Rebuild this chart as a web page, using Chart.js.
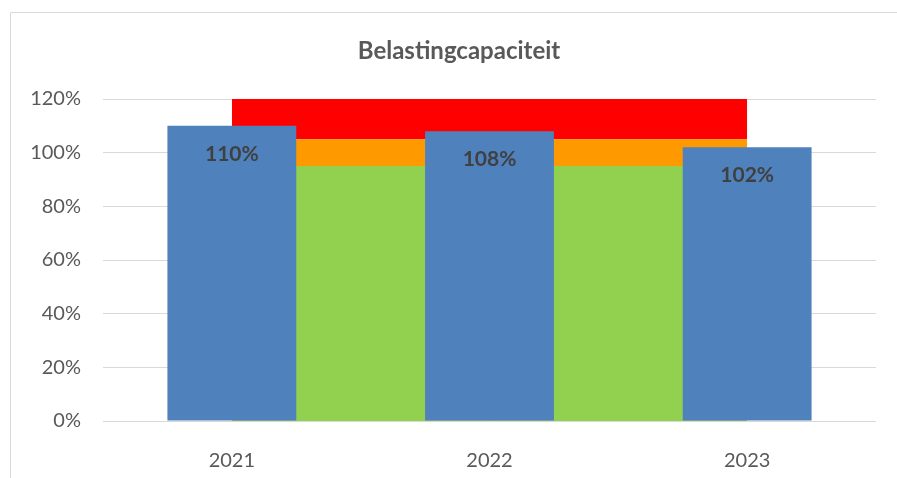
<!DOCTYPE html>
<html>
<head>
<meta charset="utf-8">
<script src="https://cdn.jsdelivr.net/npm/chart.js@4"></script>
<style>
  html,body{margin:0;padding:0;background:#fff;}
  #wrap{width:897px;height:478px;}
</style>
</head>
<body>
<div id="wrap"><canvas id="chart" width="897" height="478"></canvas></div>
<script>
// data
const years = ['2021','2022','2023'];
const belasting = [110,108,102];
const zoneGreen = [95,95,95];     // 0 - 95%
const zoneOrange = [10,10,10];    // 95 - 105%
const zoneRed = [15,15,15];       // 105 - 120%
const yTicks = [0,20,40,60,80,100,120];

// frame border
const framePlugin = {
  id:'frame',
  beforeDraw(chart){
    const c = chart.ctx;
    c.save();
    c.strokeStyle = '#d9d9d9';
    c.lineWidth = 1;
    c.beginPath();
    c.moveTo(10.5, 478);
    c.lineTo(10.5, 12.5);
    c.lineTo(897, 12.5);
    c.stroke();
    c.restore();
  }
};

// value labels inside bars
const barLabels = {
  id:'barLabels',
  afterDatasetsDraw(chart){
    const c = chart.ctx;
    const meta = chart.getDatasetMeta(0);
    c.save();
    c.font = 'bold 21px Lato';
    c.fillStyle = '#404040';
    c.textAlign = 'center';
    c.textBaseline = 'middle';
    meta.data.forEach((bar,i)=>{
      c.fillText(belasting[i] + '%', bar.x, bar.y + 28);
    });
    c.restore();
  }
};

const zoneLine = (label, data, color, fill) => ({
  type:'line',
  label:label,
  data:data,
  backgroundColor:color,
  borderWidth:0,
  pointRadius:0,
  tension:0,
  fill:fill,
  stack:'zones',
  order:2
});

new Chart(document.getElementById('chart'),{
  type:'bar',
  data:{
    labels:years,
    datasets:[
      {
        label:'Belasting',
        data:belasting,
        backgroundColor:'#4f81bd',
        borderWidth:0,
        barPercentage:0.5,
        categoryPercentage:1,
        stack:'bars',
        order:1
      },
      zoneLine('Groen', zoneGreen, '#92d050', 'origin'),
      zoneLine('Oranje', zoneOrange, '#ff9900', '-1'),
      zoneLine('Rood', zoneRed, '#ff0000', '-1')
    ]
  },
  options:{
    responsive:false,
    animation:false,
    layout:{padding:{top:0,left:21,right:0,bottom:0}},
    plugins:{
      legend:{display:false},
      tooltip:{enabled:false},
      title:{
        display:true,
        text:'Belastingcapaciteit',
        color:'#595959',
        font:{family:'Lato',size:24,weight:'bold'},
        padding:{top:37,bottom:33.2}
      }
    },
    scales:{
      x:{
        stacked:false,
        grid:{display:false},
        border:{display:false},
        ticks:{color:'#595959',font:{family:'Lato',size:20},padding:20},
        afterFit(s){ s.height = 57; }
      },
      y:{
        stacked:true,
        min:0,max:120,
        afterBuildTicks(s){ s.ticks = yTicks.map(v=>({value:v})); },
        grid:{color:'#d9d9d9',lineWidth:1,drawTicks:false},
        border:{display:false},
        ticks:{color:'#595959',font:{family:'Lato',size:20},padding:22,callback:v=>v+'%'},
        afterFit(s){ s.width = 82; }
      },
      // empty right-hand spacer so the title centres like the original
      yRight:{
        position:'right',
        display:true,
        grid:{display:false},
        border:{display:false},
        ticks:{display:false},
        afterFit(s){ s.width = 21; }
      }
    }
  },
  plugins:[framePlugin,barLabels]
});
</script>
</body>
</html>
